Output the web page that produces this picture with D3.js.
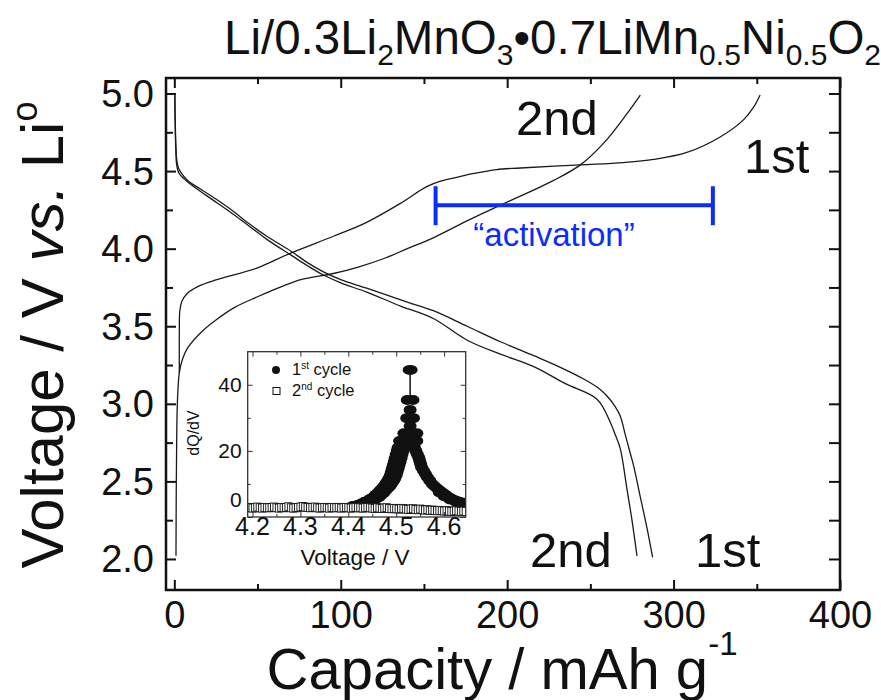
<!DOCTYPE html>
<html><head><meta charset="utf-8">
<script src="https://cdn.jsdelivr.net/npm/d3@7"></script>
<style>body{margin:0;background:#fff}svg{display:block;font-family:"Liberation Sans",Arial,Helvetica,sans-serif}</style>
</head><body><svg id="c" width="881" height="700"></svg>
<script>
// ---------- main chart data (capacity mAh/g, voltage V) ----------
const charge1st = [[3.0,3.2],[3.0,3.45],[3.3,3.6],[4.5,3.66],[7.6,3.71],[15,3.76],[25.6,3.80],[49.6,3.875],[69.6,3.97],[95.6,4.08],[115.6,4.17],[135.6,4.29],[151.6,4.40],[160,4.435],[169.6,4.46],[180,4.485],[193.6,4.51],[208,4.52],[244,4.54],[270,4.555],[288,4.575],[308,4.62],[328,4.72],[342,4.83],[348,4.91],[352,4.99]];
const charge2nd = [[1.0,2.02],[1.2,2.5],[1.5,2.85],[2,3.05],[3,3.2],[5,3.29],[8,3.36],[16,3.46],[25,3.54],[36,3.62],[50,3.69],[65.6,3.76],[76,3.80],[95.6,3.84],[110,3.88],[125.6,3.935],[140,4.0],[155.6,4.07],[178,4.19],[198,4.29],[228,4.44],[244,4.54],[258,4.68],[272,4.87],[280,4.99]];
const discharge1st = [[0.3,4.99],[0.6,4.8],[1.0,4.65],[1.5,4.57],[2.5,4.52],[4,4.49],[8,4.44],[15.6,4.385],[25,4.32],[35.6,4.24],[45,4.16],[55.6,4.08],[70.6,3.98],[80,3.91],[89.6,3.85],[100,3.80],[115.6,3.745],[140,3.655],[155.6,3.6],[176,3.50],[196,3.40],[216,3.31],[230,3.245],[246,3.16],[255,3.1],[260,3.05],[265,2.98],[268,2.92],[271,2.80],[274,2.68],[276,2.60],[280,2.40],[284,2.20],[287.4,2.01]];
const discharge2nd = [[0.3,4.99],[0.5,4.8],[0.9,4.63],[1.3,4.55],[2.2,4.50],[3.5,4.475],[8,4.43],[15.6,4.37],[25,4.30],[35.6,4.22],[45,4.145],[55.6,4.06],[70.6,3.955],[80,3.89],[89.6,3.83],[100,3.78],[115.6,3.72],[136,3.63],[155.6,3.55],[176,3.41],[196,3.32],[216,3.24],[235,3.13],[254,3.03],[262,2.88],[265,2.80],[268,2.71],[272,2.45],[275,2.25],[278,2.02]];
const xMajor = [0,100,200,300,400];
const xMinor = [50,150,250,350];
const yMajor = [2.0,2.5,3.0,3.5,4.0,4.5,5.0];
const yMinor = [2.25,2.75,3.25,3.75,4.25,4.75];
const activation = [157, 323.6, 4.28];

// ---------- inset data (voltage V, dQ/dV) ----------
const cyc1 = [
 [4.409,3.3],[4.419,3.6],[4.426,4.0],[4.434,4.6],[4.441,5.0],[4.446,5.5],[4.452,6.0],[4.457,6.7],[4.462,7.3],[4.466,8.0],[4.470,8.6],[4.474,9.2],[4.477,9.8],[4.480,10.5],[4.483,11.1],[4.485,11.7],[4.488,12.7],[4.490,13.7],[4.492,14.7],[4.494,15.7],[4.496,16.7],[4.498,17.8],[4.500,18.9],[4.502,20.0],[4.504,21.0],
 [4.421,3.3],[4.431,3.6],[4.438,4.0],[4.446,4.6],[4.453,5.0],[4.458,5.5],[4.464,6.0],[4.469,6.7],[4.474,7.3],[4.478,8.0],[4.482,8.6],[4.486,9.2],[4.489,9.8],[4.492,10.5],[4.495,11.1],[4.497,11.7],[4.500,12.7],[4.502,13.7],[4.504,14.7],[4.506,15.7],[4.508,16.7],[4.510,17.8],[4.512,18.9],[4.514,20.0],[4.516,21.0],
 [4.538,21.0],[4.541,20.0],[4.544,19.0],[4.547,18.0],[4.549,17.0],[4.551,16.0],[4.553,15.0],[4.557,14.0],[4.561,13.0],[4.565,12.0],[4.570,11.0],[4.575,10.0],[4.580,9.3],[4.585,8.7],[4.591,8.0],[4.597,7.3],[4.603,6.7],[4.608,6.1],[4.615,5.6],[4.622,5.1],[4.630,4.7],[4.638,4.4],[4.646,4.1],
 [4.590,7.4],[4.600,6.3],[4.612,5.3],[4.624,4.6],[4.636,4.1],
 [4.507,23.0],[4.519,23.0],[4.531,23.0],[4.543,23.0],
 [4.516,25.3],[4.526,25.3],[4.534,25.3],[4.543,25.3],
 [4.529,27.5],[4.522,29.9],[4.536,29.9],[4.529,32.4],[4.523,35.4],[4.535,35.4],[4.529,44.5]];
const cyc2V = [4.190,4.195,4.200,4.205,4.210,4.215,4.220,4.225,4.230,4.235,4.240,4.245,4.250,4.255,4.260,4.265,4.270,4.275,4.280,4.285,4.290,4.295,4.300,4.305,4.310,4.315,4.320,4.325,4.330,4.335,4.340,4.345,4.350,4.355,4.360,4.365,4.370,4.375,4.380,4.385,4.390,4.395,4.400,4.405,4.410,4.415,4.420,4.425,4.430,4.435,4.440,4.445,4.450,4.455,4.460,4.465,4.470,4.475,4.480,4.485,4.490,4.495,4.500,4.505,4.510,4.515,4.520,4.525,4.530,4.535,4.540,4.545,4.550,4.555,4.560,4.565,4.570,4.575,4.580,4.585,4.590,4.595,4.600,4.605,4.610,4.615,4.620,4.625,4.630,4.635,4.640,4.645];
const cyc2Q = [2.8,2.9,2.7,2.8,3.0,2.8,2.7,2.9,2.8,2.8, 2.9,3.0,2.8,2.7,2.9,2.8,2.9,3.1,2.8,2.7, 2.8,2.9,3.0,3.2,3.0,2.9,2.8,2.9,3.0,2.8, 2.7,2.8,2.9,2.8,2.7,2.9,2.8,2.8,2.9,2.7, 2.8,2.9,2.8,2.7,2.8,2.9,2.8,2.8,2.7,2.8, 2.9,2.8,2.7,2.6,2.8,2.7,2.6,2.7,2.8,2.6, 2.5,2.6,2.5,2.4,2.6,2.5,2.4,2.3,2.4,2.5, 2.3,2.2,2.4,2.2,2.1,2.2,2.0,2.1,2.0,1.9, 2.0,1.9,1.8,1.9,1.8,1.7,1.8,1.9,1.8,1.7, 1.8,1.7];
const ixMajor = [4.2,4.3,4.4,4.5,4.6];
const ixMinor = [4.25,4.35,4.45,4.55];
const iyMajor = [0,20,40];
const iyMinor = [10,30];

// ---------- drawing ----------
const svg = d3.select("#c");
const FONT = '"Liberation Sans",Arial,Helvetica,sans-serif';
const x = d3.scaleLinear([-5,400],[166,840]);
const y = d3.scaleLinear([1.8,5.1],[590,78]);

function ticks(g, axisFn, scale, vals, size, fmt, sw){
  const a = axisFn(scale).tickValues(vals).tickSize(-size).tickFormat(fmt||(()=>""));
  g.call(a);
  g.select(".domain").remove();
  g.selectAll("line").attr("stroke","#111").attr("stroke-width",sw||2);
  return g;
}

// main frame ticks
const L=166,R=840,T=78,B=590;
ticks(svg.append("g").attr("transform",`translate(0,${B})`), d3.axisBottom, x, xMajor, 10, d=>d, 2)
  .selectAll("text").attr("y",38).attr("dy",null).attr("font-size",38).attr("font-family",FONT).attr("fill","#111");
ticks(svg.append("g").attr("transform",`translate(0,${B})`), d3.axisBottom, x, xMinor, 6);
ticks(svg.append("g").attr("transform",`translate(0,${T})`), d3.axisTop, x, xMajor, 10);
ticks(svg.append("g").attr("transform",`translate(0,${T})`), d3.axisTop, x, xMinor, 6);
ticks(svg.append("g").attr("transform",`translate(${L},0)`), d3.axisLeft, y, yMajor, 10, d=>d.toFixed(1), 2)
  .selectAll("text").attr("x",-12).attr("dy",null).attr("y",13).attr("font-size",38).attr("font-family",FONT).attr("fill","#111");
ticks(svg.append("g").attr("transform",`translate(${L},0)`), d3.axisLeft, y, yMinor, 7);
ticks(svg.append("g").attr("transform",`translate(${R},0)`), d3.axisRight, y, yMajor, 11);
ticks(svg.append("g").attr("transform",`translate(${R},0)`), d3.axisRight, y, yMinor, 11);
svg.append("rect").attr("x",L).attr("y",T).attr("width",R-L).attr("height",B-T)
  .attr("fill","none").attr("stroke","#111").attr("stroke-width",2.5);

// curves
const line = d3.line().x(d=>x(d[0])).y(d=>y(d[1])).curve(d3.curveCatmullRom.alpha(0.5));
[charge1st,charge2nd,discharge1st,discharge2nd].forEach(s=>{
  svg.append("path").attr("d",line(s)).attr("fill","none").attr("stroke","#1a1a1a").attr("stroke-width",1.3);
});

// activation bar
const blue="#0a2cff";
const ay=y(activation[2]);
svg.append("line").attr("x1",x(activation[0])).attr("x2",x(activation[1])).attr("y1",ay).attr("y2",ay).attr("stroke",blue).attr("stroke-width",4);
[activation[0],activation[1]].forEach(v=>svg.append("line").attr("x1",x(v)).attr("x2",x(v)).attr("y1",ay-19).attr("y2",ay+20).attr("stroke",blue).attr("stroke-width",4));
svg.append("text").attr("x",554).attr("y",246).attr("text-anchor","middle").attr("font-size",33).attr("fill",blue).text("\u201Cactivation\u201D");

// curve labels
const lab=(t,xx,yy)=>svg.append("text").attr("x",xx).attr("y",yy).attr("font-size",49).attr("fill","#111").text(t);
lab("2nd",516,135); lab("1st",744,173); lab("2nd",530,567); lab("1st",695,567);

// title
const title = svg.append("text").attr("x",224).attr("y",54).attr("font-size",47.5).attr("fill","#111");
const parts=[["Li/0.3Li",0],["2",1],["MnO",0],["3",1],["\u20220.7LiMn",0],["0.5",1],["Ni",0],["0.5",1],["O",0],["2",1]];
let prev=0;
parts.forEach(([t,s])=>{
  const dy = s? 11 : (prev? -11:0);
  title.append("tspan").attr("dy",dy).attr("font-size",s?30:47.5).text(t);
  prev=s;
});

// y label
const yl = svg.append("text").attr("transform","translate(63,335) rotate(-90)").attr("text-anchor","middle").attr("font-size",60).attr("fill","#111");
yl.append("tspan").text("Voltage / V ");
yl.append("tspan").attr("font-style","italic").text("vs.");
yl.append("tspan").text(" Li");
yl.append("tspan").attr("dy",-26).attr("font-size",36).text("o");

// x label
const xl = svg.append("text").attr("x",502).attr("y",689).attr("text-anchor","middle").attr("font-size",58).attr("fill","#111");
xl.append("tspan").text("Capacity / mAh g");
xl.append("tspan").attr("dy",-34).attr("font-size",33).text("-1");

// ---------- inset ----------
const IL=247.7, IR=465.7, IT=351.7, IB=517;
const ix = d3.scaleLinear([4.19,4.645],[IL,IR]);
const iy = d3.scaleLinear([0,50],[IB,IT]);
svg.append("rect").attr("x",IL).attr("y",IT).attr("width",IR-IL).attr("height",IB-IT).attr("fill","#fff");
svg.append("clipPath").attr("id","ic").append("rect").attr("x",IL).attr("y",IT).attr("width",IR-IL).attr("height",IB-IT);
const ig = svg.append("g").attr("clip-path","url(#ic)");
ig.append("line").attr("x1",ix(4.529)).attr("x2",ix(4.529)).attr("y1",iy(44.5)).attr("y2",iy(35.4)).attr("stroke","#111").attr("stroke-width",1.5);
ig.selectAll("ellipse.c1").data(cyc1).join("ellipse").attr("class","c1")
  .attr("cx",d=>ix(d[0])).attr("cy",d=>iy(d[1])).attr("rx",d=>d[1]>40?7.5:6.5).attr("ry",5).attr("fill","#111");
ig.selectAll("rect.c2").data(cyc2V).join("rect").attr("class","c2")
  .attr("x",(d,i)=>ix(d)-3.5).attr("y",(d,i)=>iy(cyc2Q[i])-4).attr("width",7).attr("height",8)
  .attr("fill","#fff").attr("stroke","#111").attr("stroke-width",0.9);

const ic="#333";
function iticks(g, fn, sc, vals, size){ g.call(fn(sc).tickValues(vals).tickSize(-size).tickFormat(()=>""));
  g.select(".domain").remove(); g.selectAll("line").attr("stroke",ic).attr("stroke-width",1); return g;}
iticks(svg.append("g").attr("transform",`translate(0,${IB})`), d3.axisBottom, ix, ixMajor, 5);
iticks(svg.append("g").attr("transform",`translate(0,${IB})`), d3.axisBottom, ix, ixMinor, 3);
iticks(svg.append("g").attr("transform",`translate(0,${IT})`), d3.axisTop, ix, ixMajor, 5);
iticks(svg.append("g").attr("transform",`translate(0,${IT})`), d3.axisTop, ix, ixMinor, 3);
iticks(svg.append("g").attr("transform",`translate(${IL},0)`), d3.axisLeft, iy, iyMajor, 5);
iticks(svg.append("g").attr("transform",`translate(${IL},0)`), d3.axisLeft, iy, iyMinor, 3);
iticks(svg.append("g").attr("transform",`translate(${IR},0)`), d3.axisRight, iy, iyMajor, 5);
iticks(svg.append("g").attr("transform",`translate(${IR},0)`), d3.axisRight, iy, iyMinor, 3);
svg.append("rect").attr("x",IL).attr("y",IT).attr("width",IR-IL).attr("height",IB-IT).attr("fill","none").attr("stroke",ic).attr("stroke-width",1.3);

svg.append("g").selectAll("text").data(ixMajor).join("text")
  .attr("x",d=>ix(d)).attr("y",IB+18).attr("text-anchor","middle").attr("font-size",25).attr("fill","#111").text(d=>d.toFixed(1));
svg.append("g").selectAll("text").data(iyMajor).join("text")
  .attr("x",IL-6).attr("y",d=>iy(d)+(d===0?-10:7.5)).attr("text-anchor","end").attr("font-size",21).attr("fill","#111").text(d=>d);
svg.append("text").attr("transform","translate(199,433) rotate(-90)").attr("text-anchor","middle").attr("font-size",16).attr("fill","#111").text("dQ/dV");
svg.append("text").attr("x",355).attr("y",565).attr("text-anchor","middle").attr("font-size",22.5).attr("fill","#111").text("Voltage / V");

// inset legend
svg.append("circle").attr("cx",276).attr("cy",370).attr("r",4).attr("fill","#111");
svg.append("rect").attr("x",273).attr("y",387.5).attr("width",7).attr("height",7).attr("fill","#fff").attr("stroke","#111").attr("stroke-width",1);
const lg1 = svg.append("text").attr("x",292).attr("y",375).attr("font-size",16.5).attr("fill","#111");
lg1.append("tspan").text("1"); lg1.append("tspan").attr("dy",-6).attr("font-size",10).text("st"); lg1.append("tspan").attr("dy",6).text(" cycle");
const lg2 = svg.append("text").attr("x",292).attr("y",396).attr("font-size",16.5).attr("fill","#111");
lg2.append("tspan").text("2"); lg2.append("tspan").attr("dy",-6).attr("font-size",10).text("nd"); lg2.append("tspan").attr("dy",6).text(" cycle");
</script></body></html>
